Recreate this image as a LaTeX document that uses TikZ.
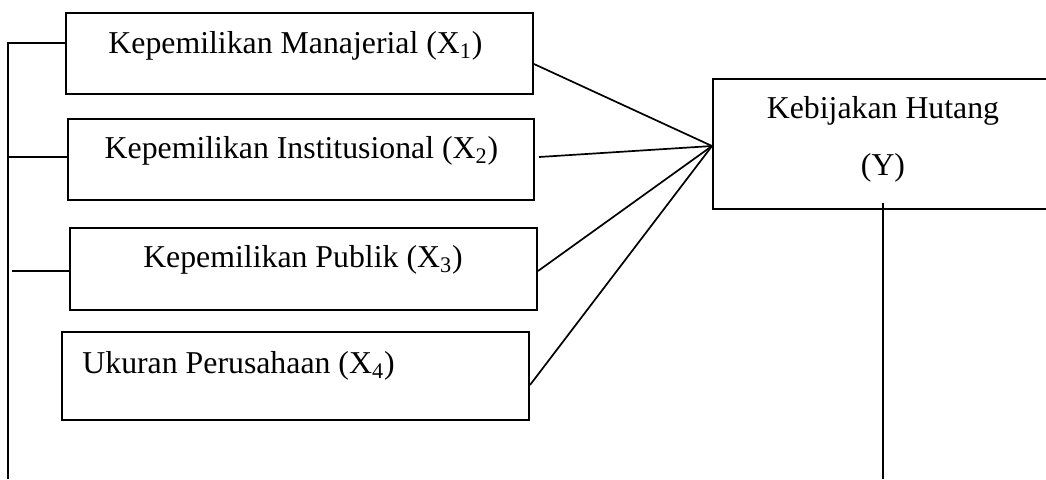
\documentclass[tikz,border=0pt]{standalone}
\usepackage{fontspec}
\setmainfont{Liberation Serif}
\begin{document}
\begin{tikzpicture}[x=0.5pt,y=-0.5pt,
  boxstyle/.style={draw,line width=1pt,inner sep=0pt,anchor=north west},
  lbl/.style={inner sep=0pt,font=\fontsize{15.9}{18}\selectfont},
  conn/.style={line width=0.85pt}]
\useasboundingbox (0,0) rectangle (1046,479);
% boxes
\node[boxstyle,minimum width=233.5pt,minimum height=40.5pt] (b1) at (65,12) {};
\node[boxstyle,minimum width=233pt,minimum height=40.5pt] (b2) at (67,118) {};
\node[boxstyle,minimum width=233.5pt,minimum height=41pt] (b3) at (69,227) {};
\node[boxstyle,minimum width=233.5pt,minimum height=44pt] (b4) at (61,331) {};
\node[boxstyle,minimum width=180pt,minimum height=65pt] (bY) at (712,78) {};
% texts
\node[lbl,anchor=base] (t1) at (295.5,53) {Kepemilikan Manajerial (X\textsubscript{1})};
\node[lbl,anchor=base] (t2) at (301.5,158) {Kepemilikan Institusional (X\textsubscript{2})};
\node[lbl,anchor=base] (t3) at (303,267) {Kepemilikan Publik (X\textsubscript{3})};
\node[lbl,anchor=base west] (t4) at (82,373) {Ukuran Perusahaan (X\textsubscript{4})};
\node[lbl,anchor=base] (tY1) at (883,118) {Kebijakan Hutang};
\node[lbl,anchor=base] (tY2) at (883,175) {(Y)};
% coordinates
\coordinate (J) at (bY.west |- 0,146);
\coordinate (s1) at (b1.east |- 0,64);
\coordinate (s2) at (539,157);
\coordinate (s3) at (b3.east |- 0,271);
\coordinate (s4) at (b4.east |- 0,385);
\coordinate (Ltop) at (8,43);
\coordinate (Lbot) at (8,479);
\coordinate (L2) at (8,157);
\coordinate (L3) at (12,271);
\coordinate (Ytop) at (883,203);
\coordinate (Ybot) at (883,479);
% connectors
\draw[conn] (s1) -- (J);
\draw[conn] (s2) -- (J);
\draw[conn] (s3) -- (J);
\draw[conn] (s4) -- (J);
\draw[conn] (Lbot) -- (Ltop) -- (b1.west |- Ltop);
\draw[conn] (L2) -- (b2.west |- L2);
\draw[conn] (L3) -- (b3.west |- L3);
\draw[conn] (Ytop) -- (Ybot);
\end{tikzpicture}
\end{document}
